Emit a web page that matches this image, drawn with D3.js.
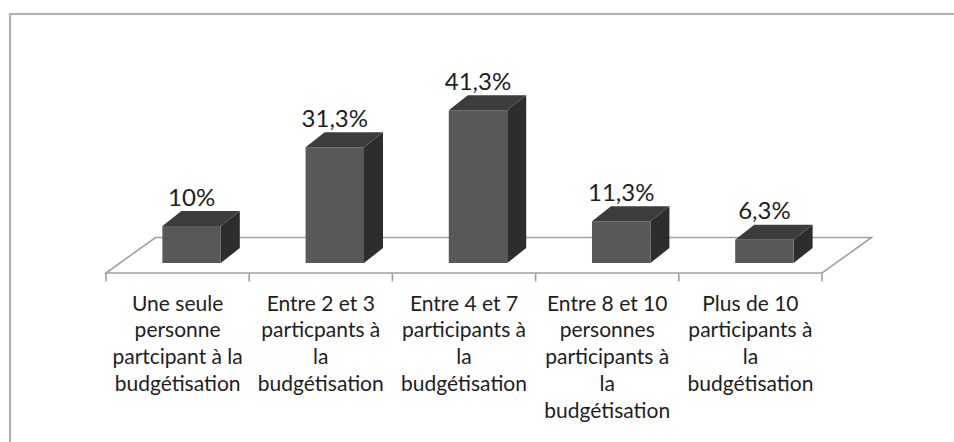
<!DOCTYPE html>
<html>
<head>
<meta charset="utf-8">
<script src="https://cdn.jsdelivr.net/npm/d3@7"></script>
<style>
  html, body { margin: 0; padding: 0; background: #fff; }
  svg { display: block; }
  text { font-family: Lato, "Noto Sans", sans-serif; fill: #1e1e1e; }
</style>
</head>
<body>
<div id="chart"></div>
<script>
(function() {

// categories, one entry per bar; "|" marks where the label breaks
var categories = [
    "Une seule|personne|partcipant à la|budgétisation",
    "Entre 2 et 3|particpants à|la|budgétisation",
    "Entre 4 et 7|participants à|la|budgétisation",
    "Entre 8 et 10|personnes|participants à|la|budgétisation",
    "Plus de 10|participants à|la|budgétisation"
];
var values = [10, 31.3, 41.3, 11.3, 6.3];
var valueLabels = ["10%", "31,3%", "41,3%", "11,3%", "6,3%"];

var width = 954, height = 442;

// floor of the 3d plot
var floor = {front: 273, back: 237.5, depthX: 49.5};
// bar front plane sits a bit behind the floor's front edge
var barFront = 263, barShift = 14;
var barDepth = {dx: 19, dy: -15};

var svg = d3.select("#chart").append("svg")
            .attr("width", width)
            .attr("height", height);

// chart frame (only top and left edges fall inside the picture)
svg.append("rect")
   .attr("x", 10).attr("y", 14)
   .attr("width", 980).attr("height", 460)
   .attr("fill", "none")
   .attr("stroke", "#b4b4b4")
   .attr("stroke-width", 2.2);

var x = d3.scaleBand()
          .domain(d3.range(categories.length))
          .range([106, 822])
          .paddingInner(0);

var y = d3.scaleLinear()
          .domain([0, 50])
          .range([barFront, barFront - 185]);

var x0 = x.range()[0], x1 = x.range()[1];

// floor outline
svg.append("path")
   .attr("d", "M" + x0 + "," + floor.front +
              "L" + (x0 + floor.depthX) + "," + floor.back +
              "L" + (x1 + floor.depthX) + "," + floor.back +
              "L" + x1 + "," + floor.front + "Z")
   .attr("fill", "none")
   .attr("stroke", "#a0a0a0")
   .attr("stroke-width", 1.6);

// tick marks at category boundaries
var tickXs = d3.range(categories.length + 1).map(function(i) {
    return i < categories.length ? x(i) : x1;
});
svg.selectAll("line.tick")
   .data(tickXs)
   .enter().append("line")
   .attr("class", "tick")
   .attr("x1", function(d) { return d; })
   .attr("x2", function(d) { return d; })
   .attr("y1", floor.front)
   .attr("y2", floor.front + 8.5)
   .attr("stroke", "#a0a0a0")
   .attr("stroke-width", 1.6);

var barW = x.bandwidth() * 0.408;

var bars = svg.selectAll("g.bar")
              .data(values)
              .enter().append("g")
              .attr("class", "bar");

var left  = function(d, i) { return x(i) + x.bandwidth() / 2 + barShift - barW / 2; };

// side face
bars.append("path")
    .attr("d", function(d, i) {
        var l = left(d, i), r = l + barW, t = y(d), b = y(0);
        return "M" + r + "," + t +
               "L" + (r + barDepth.dx) + "," + (t + barDepth.dy) +
               "L" + (r + barDepth.dx) + "," + (b + barDepth.dy) +
               "L" + r + "," + b + "Z";
    })
    .attr("fill", "#2c2e2d");

// top face
bars.append("path")
    .attr("d", function(d, i) {
        var l = left(d, i), r = l + barW, t = y(d);
        return "M" + l + "," + t +
               "L" + (l + barDepth.dx) + "," + (t + barDepth.dy) +
               "L" + (r + barDepth.dx) + "," + (t + barDepth.dy) +
               "L" + r + "," + t + "Z";
    })
    .attr("fill", "#3b3c3b");

// front face
bars.append("rect")
    .attr("x", left)
    .attr("y", function(d) { return y(d); })
    .attr("width", barW)
    .attr("height", function(d) { return y(0) - y(d); })
    .attr("fill", "#585858");

// value labels
bars.append("text")
    .attr("x", function(d, i) { return left(d, i) + barW / 2; })
    .attr("y", function(d) { return y(d) + barDepth.dy - 5.5; })
    .attr("text-anchor", "middle")
    .attr("font-size", "24px")
    .text(function(d, i) { return valueLabels[i]; });

// category labels
var labels = svg.selectAll("text.cat")
                .data(categories)
                .enter().append("text")
                .attr("class", "cat")
                .attr("text-anchor", "middle")
                .attr("font-size", "21px")
                .attr("transform", function(d, i) {
                    return "translate(" + (x(i) + x.bandwidth() / 2) + ",310.5)";
                });

labels.selectAll("tspan")
      .data(function(d) { return d.split("|"); })
      .enter().append("tspan")
      .attr("x", 0)
      .attr("y", function(d, j) { return j * 26.8; })
      .text(function(d) { return d; });

})();
</script>
</body>
</html>
